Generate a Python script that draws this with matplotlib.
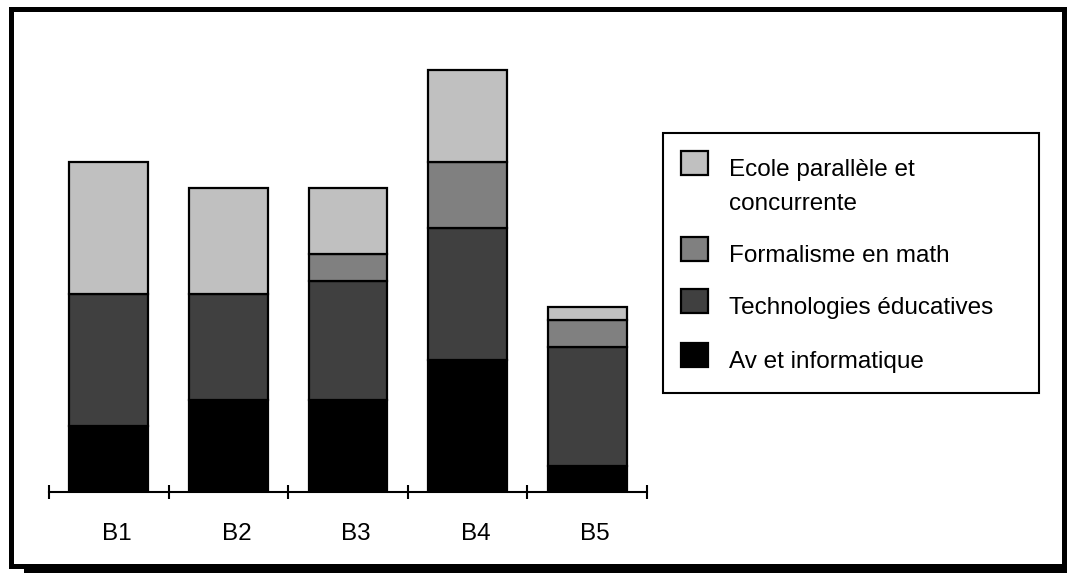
import matplotlib
matplotlib.use("Agg")
import matplotlib.pyplot as plt
import matplotlib.transforms as mtransforms
from matplotlib.patches import Rectangle
import numpy as np

# figure size in pixels (dpi 100)
W, H = 1067, 573

groups = ["B1", "B2", "B3", "B4", "B5"]
av_info = [5, 7, 7, 10, 2]
techno = [10, 8, 9, 10, 9]
formalisme = [0, 0, 2, 5, 2]
ecole = [10, 8, 5, 7, 1]

labels = ["Av et informatique", "Technologies éducatives",
          "Formalisme en math", "Ecole parallèle et\nconcurrente"]
colors = ["#000000", "#404040", "#808080", "#c0c0c0"]
series = [av_info, techno, formalisme, ecole]

plt.rcParams['font.family'] = ['Liberation Sans', 'DejaVu Sans']
FS = 17.5


def fx(x):
    return x / W


def fy(y):
    return 1 - y / H


fig = plt.figure(figsize=(W / 100, H / 100), dpi=100)
fig.patch.set_facecolor("white")

# plot area: x from 49px to 647px, baseline at 492px
left, right, bottom, top = 49, 647, 492, 60
ax = fig.add_axes([fx(left), fy(bottom), fx(right - left), (bottom - top) / H])

x = np.arange(len(groups))
base = np.zeros(len(groups))
for vals, col in zip(series, colors):
    vals = np.array(vals, dtype=float)
    ec = ["black" if v > 0 else "none" for v in vals]
    ax.bar(x, vals, width=0.66, bottom=base, color=col,
           edgecolor=ec, linewidth=1.6, zorder=2)
    base += vals

ax.set_xlim(-0.5, len(groups) - 0.5)
ax.set_ylim(0, (bottom - top) / 13.2)

# category labels, boundaries marked by ticks
ax.set_xticks(x)
ax.set_xticklabels(groups, fontsize=FS)
ax.set_xticks(np.arange(-0.5, len(groups)), minor=True)
ax.tick_params(axis="x", which="major", length=0, pad=21)
ax.tick_params(axis="x", which="minor", direction="inout", length=10,
               width=1.5, color="black")
shift = mtransforms.ScaledTranslation(8 / 100, -2 / 100, fig.dpi_scale_trans)
for lab in ax.get_xticklabels():
    lab.set_transform(lab.get_transform() + shift)

ax.get_yaxis().set_visible(False)
for spine in ["left", "top", "right"]:
    ax.spines[spine].set_visible(False)
ax.spines["bottom"].set_linewidth(1.5)
ax.patch.set_visible(False)

# legend box drawn by hand, entries listed top-down
fig.add_artist(Rectangle((fx(663), fy(393)), fx(1039 - 663), (393 - 133) / H,
                         transform=fig.transFigure, fill=False,
                         edgecolor="black", linewidth=1.5))
baselines = [176, 262, 314, 368]
for lab, col, yb in zip(labels[::-1], colors[::-1], baselines):
    fig.add_artist(Rectangle((fx(681), fy(yb - 1)), fx(27), 24 / H,
                             transform=fig.transFigure, facecolor=col,
                             edgecolor="black", linewidth=1.6))
    for k, line in enumerate(lab.split("\n")):
        fig.text(fx(729), fy(yb + 34 * k), line, fontsize=FS,
                 ha="left", va="baseline")

# outer frame with a drop shadow along the bottom
fig.add_artist(Rectangle((fx(10.5), fy(565.5)), fx(1063.5 - 10.5),
                         (565.5 - 8.5) / H, transform=fig.transFigure,
                         fill=False, edgecolor="black", linewidth=3.6))
fig.add_artist(Rectangle((fx(24), fy(573)), fx(W - 24), 4 / H,
                         transform=fig.transFigure, facecolor="black",
                         edgecolor="none"))

fig.savefig("out.png", dpi=100)
